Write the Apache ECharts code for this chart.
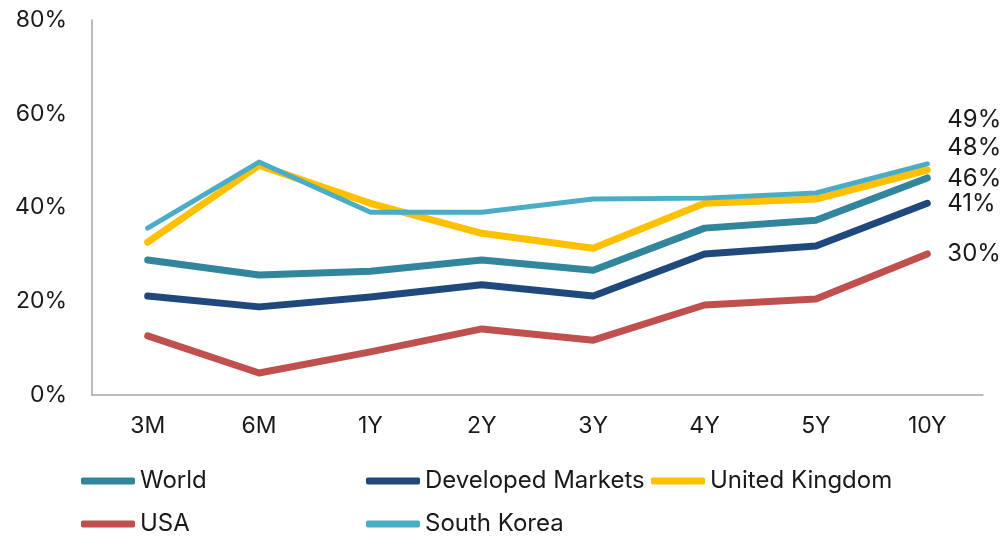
<!DOCTYPE html>
<html>
<head>
<meta charset="utf-8">
<script src="https://cdn.jsdelivr.net/npm/echarts@6/dist/echarts.min.js"></script>
<style>
  html, body { margin: 0; padding: 0; background: #fff; }
  #chart { width: 1005px; height: 537px; }
</style>
</head>
<body>
<div id="chart"></div>
<script>
const categories = ['3M', '6M', '1Y', '2Y', '3Y', '4Y', '5Y', '10Y'];
const world = [28.8, 25.6, 26.4, 28.8, 26.6, 35.6, 37.3, 46.3];
const developed = [21.1, 18.8, 20.9, 23.5, 21.1, 30.1, 31.8, 40.9];
const unitedKingdom = [32.6, 49.0, 40.9, 34.5, 31.3, 40.9, 41.8, 48.0];
const usa = [12.6, 4.7, 9.2, 14.1, 11.7, 19.2, 20.5, 30.1];
const southKorea = [35.6, 49.7, 39.0, 39.0, 41.8, 42.0, 43.1, 49.3];

const font = 'Inter, "Noto Sans", sans-serif';
const textColor = '#1a1a1a';

function makeSeries(name, data, color, width, labelOffset) {
  return {
    name: name,
    type: 'line',
    data: data,
    symbol: 'none',
    z: name === 'South Korea' ? 5 : 3,
    lineStyle: { color: color, width: width, cap: 'round', join: 'round' },
    itemStyle: { color: color },
    endLabel: {
      show: true,
      distance: 20,
      offset: [0, labelOffset],
      fontFamily: font,
      fontSize: 24,
      color: textColor,
      formatter: p => Math.round(p.value) + '%'
    }
  };
}

// one legend box per entry, laid out in a 3-column grid
function legendItem(name, left, top) {
  return {
    left: left,
    top: top,
    data: [name],
    itemWidth: 54,
    itemHeight: 7,
    icon: 'roundRect',
    textStyle: { fontFamily: font, fontSize: 24, color: textColor, padding: [0, 0, 0, 0] }
  };
}

const chart = echarts.init(document.getElementById('chart'));

chart.setOption({
  animation: false,
  grid: { left: 92, right: 22, top: 20, bottom: 142 },
  legend: [
    legendItem('World', 76, 464),
    legendItem('Developed Markets', 361, 464),
    legendItem('United Kingdom', 646, 464),
    legendItem('USA', 76, 507),
    legendItem('South Korea', 361, 507)
  ],
  xAxis: {
    type: 'category',
    data: categories,
    boundaryGap: true,
    axisLine: { show: true, lineStyle: { color: '#a6a6a6', width: 1.5 } },
    axisTick: { show: false },
    axisLabel: { margin: 20, fontFamily: font, fontSize: 23, color: textColor }
  },
  yAxis: {
    type: 'value',
    min: 0,
    max: 80,
    interval: 20,
    axisLine: { show: true, lineStyle: { color: '#a6a6a6', width: 1.5 } },
    axisTick: { show: false },
    splitLine: { show: false },
    axisLabel: { margin: 25, fontFamily: font, fontSize: 23, color: textColor, formatter: '{value}%' }
  },
  series: [
    makeSeries('World', world, '#31859c', 7, 1),
    makeSeries('Developed Markets', developed, '#1f497d', 7, 0),
    makeSeries('United Kingdom', unitedKingdom, '#ffc000', 7, -22),
    makeSeries('USA', usa, '#c0504d', 7, 0),
    makeSeries('South Korea', southKorea, '#4bacc6', 5, -44)
  ]
});
</script>
</body>
</html>
